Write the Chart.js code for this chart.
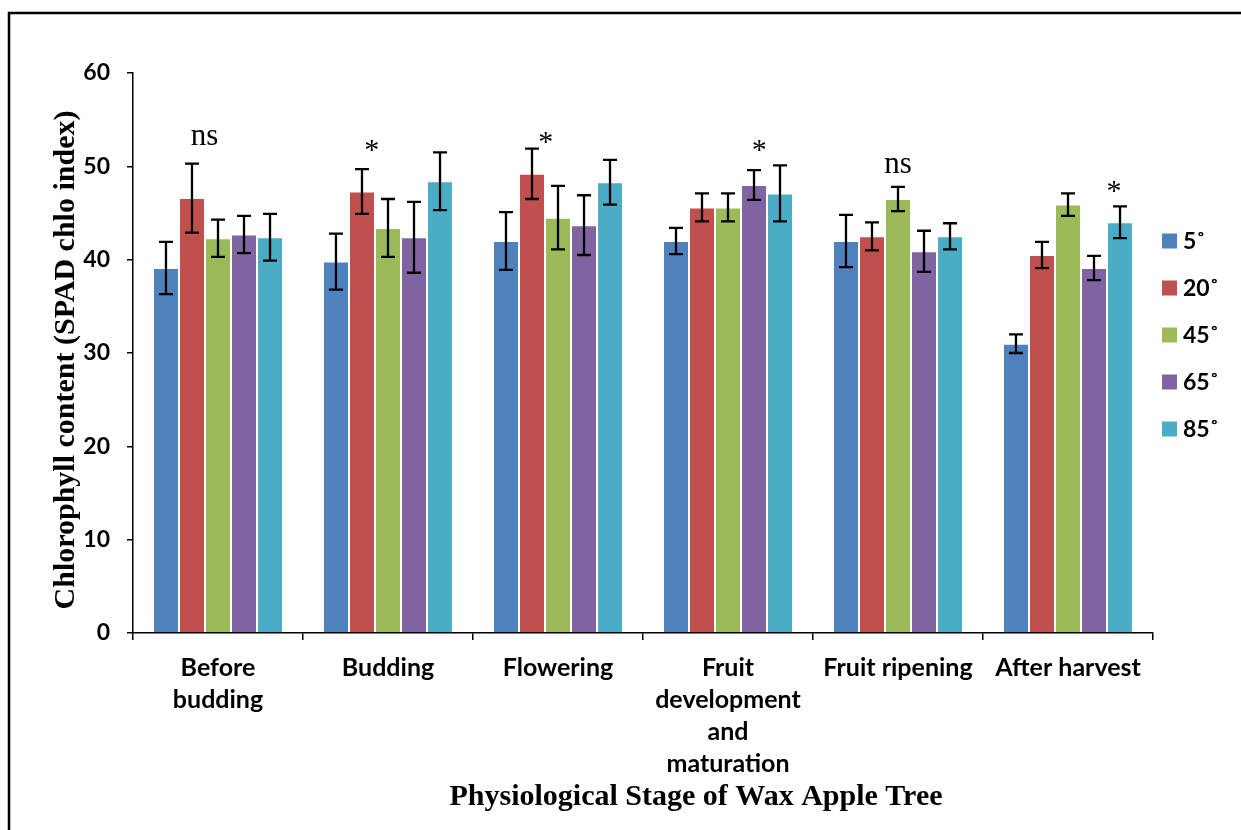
<!DOCTYPE html>
<html>
<head>
<meta charset="utf-8">
<script src="https://cdn.jsdelivr.net/npm/chart.js@4.4.1/dist/chart.umd.min.js"></script>
<style>
  html, body { margin: 0; padding: 0; background: #fff; }
  #wrap { width: 1241px; height: 830px; position: relative; }
</style>
</head>
<body>
<div id="wrap"><canvas id="c" width="1241" height="830"></canvas></div>
<script>
// Physiological stages (x categories), one line per array entry
const stages = [
  ['Before', 'budding'],
  ['Budding'],
  ['Flowering'],
  ['Fruit', 'development', 'and', 'maturation'],
  ['Fruit ripening'],
  ['After harvest']
];

// Branch bending angle treatments
const angleLabels = ['5˚', '20˚', '45˚', '65˚', '85˚'];
const angleColors = ['#4F81BD', '#C0504D', '#9BBB59', '#8064A2', '#4BACC6'];

// Mean SPAD chlorophyll index per stage, one array per angle
const mean5  = [39.1, 39.8, 42.0, 42.0, 42.0, 31.0];
const mean20 = [46.6, 47.3, 49.2, 45.6, 42.5, 40.5];
const mean45 = [42.3, 43.4, 44.5, 45.6, 46.5, 45.9];
const mean65 = [42.7, 42.4, 43.7, 48.0, 40.9, 39.1];
const mean85 = [42.4, 48.4, 48.3, 47.1, 42.5, 44.0];

// Standard error of each mean
const se5  = [2.8, 3.0, 3.1, 1.4, 2.8, 1.0];
const se20 = [3.7, 2.4, 2.7, 1.5, 1.5, 1.4];
const se45 = [2.0, 3.1, 3.4, 1.5, 1.3, 1.2];
const se65 = [2.0, 3.8, 3.2, 1.6, 2.2, 1.3];
const se85 = [2.5, 3.1, 2.4, 3.0, 1.4, 1.7];

// Significance mark per stage, the bar slot it sits over and its height (SPAD units)
const sigText   = ['ns', '*', '*', '*', 'ns', '*'];
const sigSlot   = [1.48, 1.38, 1.53, 3.2, 2.0, 3.77];
const sigLevel  = [53.1, 52.2, 53.1, 52.2, 50.1, 47.8];

// Y axis ticks
const yMin = 0, yMax = 60, yStep = 10;

const means = [mean5, mean20, mean45, mean65, mean85];
const errors = [se5, se20, se45, se65, se85];

const TICK_FONT = 'Lato, "Open Sans", sans-serif';
const SERIF = '"Liberation Serif", "Times New Roman", serif';

const decorPlugin = {
  id: 'decor',
  beforeDraw(chart) {
    const ctx = chart.ctx;
    ctx.save();
    ctx.fillStyle = '#fff';
    ctx.fillRect(0, 0, chart.width, chart.height);
    // outer frame (left and top edges)
    ctx.strokeStyle = '#000';
    ctx.lineWidth = 2.5;
    ctx.beginPath();
    ctx.moveTo(9, chart.height + 2);
    ctx.lineTo(9, 13);
    ctx.lineTo(chart.width + 2, 13);
    ctx.stroke();
    ctx.restore();
  },
  afterDatasetsDraw(chart) {
    const ctx = chart.ctx;
    const y = chart.scales.y;
    ctx.save();
    // error bars
    ctx.strokeStyle = '#000';
    ctx.lineWidth = 2.3;
    chart.data.datasets.forEach((ds, i) => {
      const meta = chart.getDatasetMeta(i);
      meta.data.forEach((bar, j) => {
        const m = ds.data[j], e = errors[i][j];
        const top = y.getPixelForValue(m + e);
        const bot = y.getPixelForValue(m - e);
        const cap = 7;
        ctx.beginPath();
        ctx.moveTo(bar.x, top); ctx.lineTo(bar.x, bot);
        ctx.moveTo(bar.x - cap, top); ctx.lineTo(bar.x + cap, top);
        ctx.moveTo(bar.x - cap, bot); ctx.lineTo(bar.x + cap, bot);
        ctx.stroke();
      });
    });
    // significance marks
    const m0 = chart.getDatasetMeta(0).data;
    const m1 = chart.getDatasetMeta(1).data;
    ctx.fillStyle = '#000';
    ctx.textAlign = 'center';
    ctx.textBaseline = 'alphabetic';
    sigText.forEach((t, c) => {
      const step = m1[c].x - m0[c].x;
      const x = m0[c].x + sigSlot[c] * step;
      const cy = y.getPixelForValue(sigLevel[c]);
      ctx.font = (t === '*' ? '30px ' : '31px ') + SERIF;
      const mt = ctx.measureText(t);
      const by = cy + (mt.actualBoundingBoxAscent - mt.actualBoundingBoxDescent) / 2;
      ctx.fillText(t, x, by);
    });
    ctx.restore();
  },
  afterDraw(chart) {
    const ctx = chart.ctx;
    ctx.save();
    ctx.fillStyle = '#000';
    // axis titles
    ctx.font = 'bold 30px ' + SERIF;
    ctx.textAlign = 'center';
    ctx.textBaseline = 'alphabetic';
    ctx.fillText('Physiological Stage of Wax Apple Tree', 696, 805);
    ctx.save();
    ctx.translate(74, 360);
    ctx.rotate(-Math.PI / 2);
    ctx.fillText('Chlorophyll content (SPAD chlo index)', 0, 0);
    ctx.restore();
    // legend
    ctx.font = 'bold 23px ' + TICK_FONT;
    ctx.textAlign = 'left';
    ctx.textBaseline = 'middle';
    chart.data.datasets.forEach((ds, i) => {
      const cy = 241 + i * 47;
      ctx.fillStyle = ds.backgroundColor;
      ctx.fillRect(1162, cy - 7.5, 15, 15);
      ctx.fillStyle = '#000';
      ctx.fillText(ds.label, 1183, cy + 1);
    });
    ctx.restore();
  }
};

new Chart(document.getElementById('c'), {
  type: 'bar',
  data: {
    labels: stages,
    datasets: angleLabels.map((lab, i) => ({
      label: lab,
      data: means[i],
      backgroundColor: angleColors[i],
      borderColor: 'rgba(255,255,255,0.2)',
      borderWidth: 1,
      borderSkipped: 'bottom',
      categoryPercentage: 0.765,
      barPercentage: 1.0
    }))
  },
  options: {
    responsive: false,
    animation: false,
    devicePixelRatio: 1,
    layout: { padding: { top: 73, right: 88, bottom: 0, left: 0 } },
    plugins: { legend: { display: false }, tooltip: { enabled: false } },
    scales: {
      x: {
        offset: true,
        grid: { offset: true, drawOnChartArea: false, drawTicks: true, tickLength: 7, color: '#000', lineWidth: 1.5 },
        border: { display: true, color: '#000', width: 1.5 },
        ticks: {
          color: '#000',
          font: { family: TICK_FONT, size: 25, weight: 'bold', lineHeight: 1.28 },
          padding: 12,
          maxRotation: 0,
          autoSkip: false
        },
        afterFit(scale) { scale.height = 197; }
      },
      y: {
        min: yMin, max: yMax,
        grid: { drawOnChartArea: false, drawTicks: true, tickLength: 6, color: '#000', lineWidth: 1.5 },
        border: { display: true, color: '#000', width: 1.5 },
        ticks: {
          stepSize: yStep,
          color: '#000',
          padding: 17,
          font: { family: TICK_FONT, size: 23, weight: 'bold' }
        },
        afterFit(scale) { scale.width = 133; }
      }
    }
  },
  plugins: [decorPlugin]
});
</script>
</body>
</html>
